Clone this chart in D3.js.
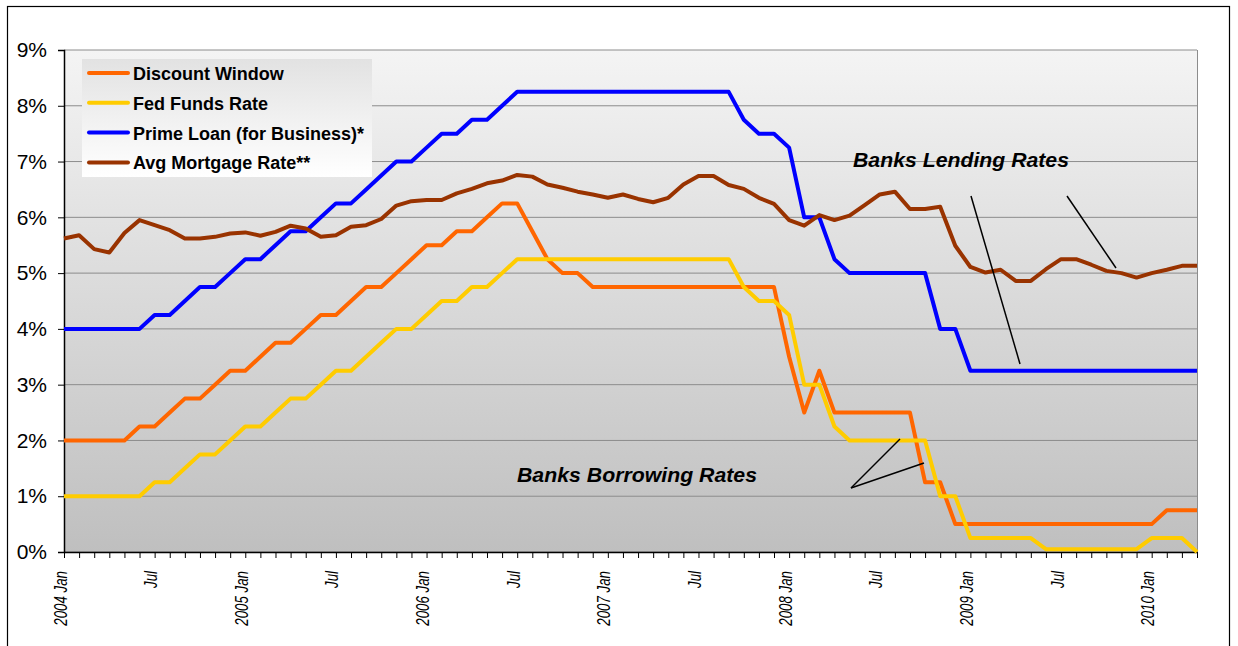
<!DOCTYPE html>
<html>
<head>
<meta charset="utf-8">
<script src="https://cdn.jsdelivr.net/npm/d3@7"></script>
<style>
  body { margin: 0; background: #fff; }
  svg { display: block; }
</style>
</head>
<body>
<div id="chart"></div>
<script>
// --- data ---

// monthly categories, 2004 Jan .. 2010 Apr
var monthNames = ["Jan", "Feb", "Mar", "Apr", "May", "Jun", "Jul", "Aug", "Sep", "Oct", "Nov", "Dec"];
var months = [];
for (var yr = 2004; yr <= 2010; yr++) {
    for (var m = 0; m < 12; m++) {
        if (yr === 2010 && m > 3) break;
        months.push(yr + " " + monthNames[m]);
    }
}

// tick labels shown every six months
var tickLabels = ["2004 Jan", "Jul", "2005 Jan", "Jul", "2006 Jan", "Jul", "2007 Jan", "Jul",
                  "2008 Jan", "Jul", "2009 Jan", "Jul", "2010 Jan"];
var yTicks = [0, 1, 2, 3, 4, 5, 6, 7, 8, 9];

var discountWindow = [2.00, 2.00, 2.00, 2.00, 2.00, 2.25, 2.25, 2.50, 2.75, 2.75, 3.00, 3.25,
                      3.25, 3.50, 3.75, 3.75, 4.00, 4.25, 4.25, 4.50, 4.75, 4.75, 5.00, 5.25,
                      5.50, 5.50, 5.75, 5.75, 6.00, 6.25, 6.25, 5.75, 5.25, 5.00, 5.00, 4.75,
                      4.75, 4.75, 4.75, 4.75, 4.75, 4.75, 4.75, 4.75, 4.75, 4.75, 4.75, 4.75,
                      3.50, 2.50, 3.25, 2.50, 2.50, 2.50, 2.50, 2.50, 2.50, 1.25, 1.25, 0.50,
                      0.50, 0.50, 0.50, 0.50, 0.50, 0.50, 0.50, 0.50, 0.50, 0.50, 0.50, 0.50,
                      0.50, 0.75, 0.75, 0.75];

var fedFunds = [1.00, 1.00, 1.00, 1.00, 1.00, 1.00, 1.25, 1.25, 1.50, 1.75, 1.75, 2.00,
                2.25, 2.25, 2.50, 2.75, 2.75, 3.00, 3.25, 3.25, 3.50, 3.75, 4.00, 4.00,
                4.25, 4.50, 4.50, 4.75, 4.75, 5.00, 5.25, 5.25, 5.25, 5.25, 5.25, 5.25,
                5.25, 5.25, 5.25, 5.25, 5.25, 5.25, 5.25, 5.25, 5.25, 4.75, 4.50, 4.50,
                4.25, 3.00, 3.00, 2.25, 2.00, 2.00, 2.00, 2.00, 2.00, 2.00, 1.00, 1.00,
                0.25, 0.25, 0.25, 0.25, 0.25, 0.05, 0.05, 0.05, 0.05, 0.05, 0.05, 0.05,
                0.25, 0.25, 0.25, 0.00];

var primeLoan = [4.00, 4.00, 4.00, 4.00, 4.00, 4.00, 4.25, 4.25, 4.50, 4.75, 4.75, 5.00,
                 5.25, 5.25, 5.50, 5.75, 5.75, 6.00, 6.25, 6.25, 6.50, 6.75, 7.00, 7.00,
                 7.25, 7.50, 7.50, 7.75, 7.75, 8.00, 8.25, 8.25, 8.25, 8.25, 8.25, 8.25,
                 8.25, 8.25, 8.25, 8.25, 8.25, 8.25, 8.25, 8.25, 8.25, 7.75, 7.50, 7.50,
                 7.25, 6.00, 6.00, 5.25, 5.00, 5.00, 5.00, 5.00, 5.00, 5.00, 4.00, 4.00,
                 3.25, 3.25, 3.25, 3.25, 3.25, 3.25, 3.25, 3.25, 3.25, 3.25, 3.25, 3.25,
                 3.25, 3.25, 3.25, 3.25];

var mortgage = [5.62, 5.68, 5.43, 5.37, 5.72, 5.95, 5.86, 5.77, 5.62, 5.62, 5.65, 5.71,
                5.73, 5.67, 5.74, 5.85, 5.80, 5.65, 5.68, 5.83, 5.86, 5.97, 6.21, 6.29,
                6.31, 6.31, 6.43, 6.51, 6.61, 6.66, 6.76, 6.73, 6.59, 6.53, 6.46, 6.41,
                6.35, 6.41, 6.33, 6.27, 6.35, 6.59, 6.74, 6.74, 6.58, 6.51, 6.35, 6.24,
                5.95, 5.85, 6.04, 5.95, 6.03, 6.22, 6.41, 6.46, 6.15, 6.15, 6.19, 5.49,
                5.11, 5.01, 5.06, 4.86, 4.86, 5.07, 5.25, 5.25, 5.15, 5.04, 5.00, 4.92,
                5.00, 5.06, 5.13, 5.13];

var seriesNames = ["Discount Window", "Fed Funds Rate", "Prime Loan (for Business)*", "Avg Mortgage Rate**"];
var seriesColors = ["#FF6600", "#FFCC00", "#0000FF", "#993300"];
var seriesValues = [discountWindow, fedFunds, primeLoan, mortgage];

// --- layout ---
const W = 1238, H = 646;
const plotLeft = 64, plotRight = 1197, plotTop = 50, plotBottom = 552;
const font = "'Liberation Sans', Arial, sans-serif";

var svg = d3.select("#chart").append("svg")
    .attr("width", W)
    .attr("height", H);

var defs = svg.append("defs");
var bg = defs.append("linearGradient").attr("id", "plotBg")
    .attr("x1", 0).attr("y1", 0).attr("x2", 0).attr("y2", 1);
bg.append("stop").attr("offset", "0%").attr("stop-color", "#f4f4f4");
bg.append("stop").attr("offset", "100%").attr("stop-color", "#bfbfbf");

var lg = defs.append("linearGradient").attr("id", "legBg")
    .attr("x1", 0).attr("y1", 0).attr("x2", 0).attr("y2", 1);
lg.append("stop").attr("offset", "0%").attr("stop-color", "#e2e2e2");
lg.append("stop").attr("offset", "100%").attr("stop-color", "#ffffff");

// outer chart frame
svg.append("rect")
    .attr("x", 7.5).attr("y", 6.5)
    .attr("width", 1222).attr("height", 700)
    .attr("fill", "none")
    .attr("stroke", "#000")
    .attr("stroke-width", 1.2);

// scales
var x = d3.scalePoint()
    .domain(months)
    .range([plotLeft, plotRight]);

var y = d3.scaleLinear()
    .domain([0, 9])
    .range([plotBottom, plotTop]);

// plot area
svg.append("rect")
    .attr("x", plotLeft).attr("y", plotTop)
    .attr("width", plotRight - plotLeft).attr("height", plotBottom - plotTop)
    .attr("fill", "url(#plotBg)");

// gridlines
svg.append("g")
    .selectAll("line")
    .data(yTicks)
    .enter()
    .append("line")
    .attr("x1", plotLeft).attr("x2", plotRight)
    .attr("y1", function (d) { return y(d); })
    .attr("y2", function (d) { return y(d); })
    .attr("stroke", "#8c8c8c")
    .attr("stroke-width", 1);

// plot right edge
svg.append("line")
    .attr("x1", plotRight + 0.5).attr("x2", plotRight + 0.5)
    .attr("y1", plotTop).attr("y2", plotBottom)
    .attr("stroke", "#8c8c8c");

// y axis
var yAxis = d3.axisLeft(y)
    .tickValues(yTicks)
    .tickSize(6)
    .tickFormat(function (d) { return d + "%"; });

var yg = svg.append("g")
    .attr("transform", "translate(" + plotLeft + ",0)")
    .call(yAxis);
yg.select(".domain").attr("stroke", "#000").attr("stroke-width", 1.5);
yg.selectAll(".tick line").attr("stroke", "#000");
yg.selectAll(".tick text")
    .attr("x", -17)
    .attr("font-family", font)
    .attr("font-size", "21px")
    .attr("fill", "#000");

// x axis: monthly ticks
var xAxis = d3.axisBottom(x)
    .tickSize(6)
    .tickSizeOuter(0)
    .tickFormat("");

var xg = svg.append("g")
    .attr("transform", "translate(0," + plotBottom + ")")
    .call(xAxis);
xg.select(".domain").attr("stroke", "#000").attr("stroke-width", 1.5);
xg.selectAll(".tick line").attr("stroke", "#000");

// x labels every six months
var labelMonths = months.filter(function (d, i) { return i % 6 === 0; });
svg.append("g")
    .selectAll("text")
    .data(labelMonths)
    .enter()
    .append("text")
    .attr("transform", function (d) {
        return "translate(" + (x(d) + 2.5) + ",571) rotate(-90) scale(0.7,1)";
    })
    .attr("text-anchor", "end")
    .attr("font-family", font)
    .attr("font-style", "italic")
    .attr("font-size", "19px")
    .attr("fill", "#000")
    .text(function (d, i) { return tickLabels[i]; });

// series lines
var line = d3.line()
    .x(function (d, i) { return x(months[i]); })
    .y(function (d) { return y(d); });

svg.append("g")
    .selectAll("path")
    .data(seriesValues)
    .enter()
    .append("path")
    .attr("d", line)
    .attr("fill", "none")
    .attr("stroke", function (d, i) { return seriesColors[i]; })
    .attr("stroke-width", 4)
    .attr("stroke-linejoin", "round");

// legend
var legend = svg.append("g");
legend.append("rect")
    .attr("x", 82).attr("y", 59)
    .attr("width", 290).attr("height", 118)
    .attr("fill", "url(#legBg)");

var items = legend.selectAll("g.item")
    .data(seriesNames)
    .enter()
    .append("g")
    .attr("class", "item")
    .attr("transform", function (d, i) { return "translate(0," + (73 + i * 29.8) + ")"; });

items.append("line")
    .attr("x1", 89).attr("x2", 128)
    .attr("y1", 0).attr("y2", 0)
    .attr("stroke", function (d, i) { return seriesColors[i]; })
    .attr("stroke-width", 4)
    .attr("stroke-linecap", "round");

items.append("text")
    .attr("x", 133)
    .attr("y", 7)
    .attr("font-family", font)
    .attr("font-weight", "bold")
    .attr("font-size", "18px")
    .attr("fill", "#000")
    .text(function (d) { return d; });

// annotations
svg.append("text")
    .attr("x", 853).attr("y", 167)
    .attr("textLength", 216)
    .attr("lengthAdjust", "spacingAndGlyphs")
    .attr("font-family", font)
    .attr("font-weight", "bold")
    .attr("font-style", "italic")
    .attr("font-size", "19.5px")
    .text("Banks Lending Rates");

svg.append("text")
    .attr("x", 517).attr("y", 482)
    .attr("textLength", 240)
    .attr("lengthAdjust", "spacingAndGlyphs")
    .attr("font-family", font)
    .attr("font-weight", "bold")
    .attr("font-style", "italic")
    .attr("font-size", "19.5px")
    .text("Banks Borrowing Rates");

// pointer lines
var pointers = [
    [971, 196, 1020, 364],
    [1067, 196, 1116, 268],
    [851, 488, 900, 439],
    [851, 488, 924, 463]
];
svg.append("g")
    .selectAll("line")
    .data(pointers)
    .enter()
    .append("line")
    .attr("x1", function (d) { return d[0]; })
    .attr("y1", function (d) { return d[1]; })
    .attr("x2", function (d) { return d[2]; })
    .attr("y2", function (d) { return d[3]; })
    .attr("stroke", "#000")
    .attr("stroke-width", 1.5);
</script>
</body>
</html>
